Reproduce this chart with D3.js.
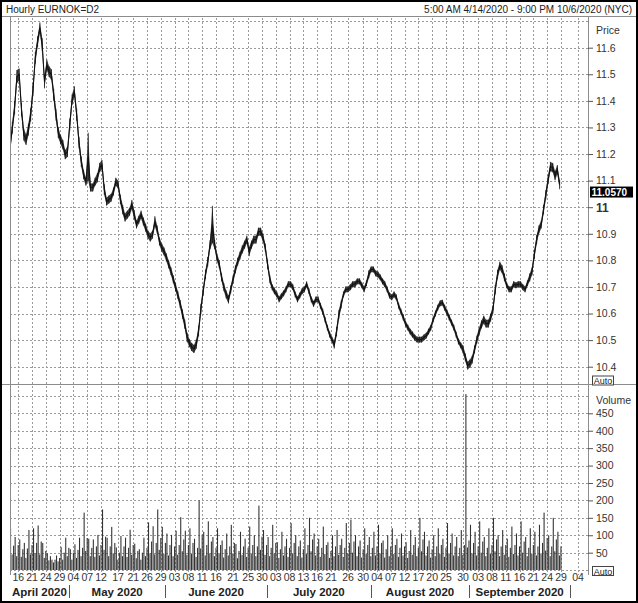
<!DOCTYPE html>
<html><head><meta charset="utf-8">
<script src="https://cdn.jsdelivr.net/npm/d3@7"></script>
<style>body{margin:0;background:#fff;} svg{display:block;font-family:"Liberation Sans",Arial,sans-serif;}</style>
</head><body><svg id="c" width="638" height="603"></svg>
<script>
const title = "Hourly EURNOK=D2";
const rangeText = "5:00 AM 4/14/2020 - 9:00 PM 10/6/2020 (NYC)";
const axisStart = "2020-04-14T05:00";
const axisEnd = "2020-10-06T21:00";
const priceStepHours = 12;
const priceMid = [
11.224,11.299,11.374,11.491,11.499,11.367,11.273,11.254,11.292,11.348,
11.442,11.562,11.623,11.675,11.611,11.472,11.536,11.510,11.499,11.423,
11.348,11.280,11.254,11.235,11.198,11.209,11.311,11.405,11.435,11.348,
11.243,11.171,11.123,11.096,11.190,11.074,11.074,11.096,11.111,11.149,
11.160,11.066,11.021,11.029,11.036,11.059,11.096,11.085,11.029,10.991,
10.961,
10.972,10.983,11.010,10.972,10.935,10.953,10.972,10.946,10.923,10.897,
10.886,10.897,10.946,10.916,10.871,10.848,10.833,10.811,10.785,10.759,
10.729,10.699,10.669,10.636,10.598,10.560,10.511,10.489,10.474,10.467,
10.485,10.534,10.617,10.684,10.747,10.795,10.859,10.935,10.859,10.811,
10.785,10.736,10.699,10.672,10.653,10.691,10.729,10.766,10.795,10.818,
10.841,10.859,10.878,10.833,10.859,10.878,10.878,10.908,10.908,10.886,
10.848,10.785,10.729,10.699,10.684,10.672,10.653,10.665,10.676,10.691,
10.710,10.710,10.699,10.672,10.653,10.668,10.684,10.691,10.710,10.684,
10.653,10.636,10.653,10.653,10.629,10.607,10.577,10.547,10.521,10.502,
10.483,10.532,10.596,10.634,10.672,10.691,10.691,10.699,10.710,10.710,
10.721,10.721,10.706,10.691,10.714,10.747,10.766,10.766,10.751,10.747,
10.736,10.721,10.710,10.691,10.668,10.661,10.672,10.661,10.629,10.607,
10.585,10.562,10.547,10.532,10.521,10.510,10.502,10.502,10.502,10.510,
10.517,10.532,10.547,10.577,10.600,10.622,10.638,10.641,10.622,10.604,
10.585,10.566,10.547,10.521,10.495,10.480,10.465,10.435,10.404,10.412,
10.427,10.465,10.502,10.532,10.559,10.577,10.562,10.562,10.585,10.615,
10.690,10.747,10.780,10.766,10.736,10.706,10.691,10.691,10.710,10.706,
10.710,10.710,10.699,10.691,10.714,10.736,10.759,10.823,10.878,10.916,
10.935,10.991,11.047,11.104,11.153,11.149,11.119,11.141,11.085
];
const priceRange = [
0.040,0.045,0.050,0.050,0.045,0.050,0.045,0.040,0.045,0.050,
0.050,0.045,0.040,0.040,0.050,0.050,0.040,0.040,0.040,0.045,
0.045,0.040,0.035,0.035,0.035,0.040,0.045,0.040,0.040,0.045,
0.045,0.040,0.035,0.030,0.180,0.030,0.030,0.030,0.035,0.035,
0.035,0.040,0.030,0.030,0.030,0.030,0.030,0.030,0.035,0.035,
0.030,
0.030,0.030,0.035,0.035,0.030,0.030,0.030,0.030,0.030,0.030,
0.030,0.030,0.040,0.030,0.030,0.030,0.030,0.030,0.030,0.030,
0.030,0.030,0.030,0.030,0.035,0.035,0.035,0.030,0.030,0.030,
0.035,0.040,0.040,0.035,0.035,0.035,0.035,0.140,0.035,0.030,
0.030,0.030,0.030,0.030,0.030,0.030,0.030,0.030,0.030,0.030,
0.030,0.030,0.030,0.035,0.030,0.030,0.030,0.030,0.030,0.030,
0.030,0.035,0.030,0.022,0.022,0.022,0.022,0.022,0.022,0.022,
0.022,0.022,0.022,0.022,0.022,0.022,0.022,0.022,0.022,0.022,
0.022,0.022,0.022,0.022,0.022,0.022,0.022,0.022,0.022,0.022,
0.030,0.035,0.035,0.030,0.022,0.022,0.022,0.022,0.022,0.022,
0.022,0.022,0.022,0.022,0.022,0.030,0.022,0.022,0.022,0.022,
0.022,0.022,0.022,0.022,0.022,0.022,0.022,0.022,0.022,0.022,
0.022,0.022,0.022,0.022,0.022,0.022,0.022,0.022,0.022,0.022,
0.022,0.022,0.022,0.022,0.022,0.022,0.022,0.022,0.022,0.022,
0.022,0.022,0.022,0.022,0.022,0.022,0.030,0.030,0.030,0.030,
0.030,0.030,0.030,0.030,0.030,0.030,0.030,0.030,0.030,0.030,
0.035,0.035,0.030,0.030,0.030,0.022,0.022,0.022,0.022,0.022,
0.022,0.022,0.022,0.022,0.022,0.030,0.030,0.035,0.035,0.030,
0.030,0.035,0.035,0.035,0.035,0.035,0.035,0.035,0.035
];
const lastPrice = 11.0570;
const volumeStepHours = 8;
const volume = [
120,45,70, 95,40,72, 88,38,60, 78,35,62, 115,45,72, 120,48,78, 128,45,82, 78,35,55, 48,28,40, 30,22,30,
42,25,35, 66,30,50, 93,40,64, 60,30,50, 74,35,58, 93,40,64, 165,55,92, 90,40,64, 88,38,68, 101,42,72,
174,58,96, 93,40,68, 124,48,78, 65,30,50, 98,40,68, 93,38,64, 116,44,72, 76,34,55, 60,30,50, 93,40,64,
137,48,82, 126,45,78, 174,58,92, 124,46,78, 105,42,72, 101,40,68, 113,44,72, 152,54,88, 113,44,72, 120,46,78,
90,38,64, 200,62,102, 110,42,72, 140,48,82, 95,40,64, 120,46,72, 85,36,60, 105,42,68, 130,48,78, 75,34,55,
110,44,68, 90,38,64, 125,46,72, 100,40,68, 185,58,96, 115,44,72, 95,40,64, 130,48,78, 80,35,60, 110,42,68,
90,38,64, 135,48,78, 100,40,68, 85,36,60, 120,46,72, 150,54,88, 105,42,68, 90,38,64, 125,46,72, 80,35,55,
100,40,68, 115,44,72, 90,38,64, 135,48,78, 145,50,82, 100,40,68, 85,36,60, 120,46,72, 95,40,64, 110,42,68,
130,48,78, 85,36,60, 100,40,68, 120,46,72, 90,38,64, 105,42,68, 80,35,55, 115,44,72, 95,40,64, 150,54,88,
110,42,68, 85,36,60, 100,40,68, 120,46,72, 90,38,64, 135,48,78, 105,42,68, 95,40,64, 115,44,72, 505,65,85,
130,48,78, 110,42,68, 140,50,82, 95,40,64, 120,46,72, 150,54,88, 100,40,68, 115,44,72, 90,38,64, 125,46,72,
105,42,68, 140,50,82, 95,40,64, 120,46,72, 110,42,68, 130,48,78, 165,56,92, 100,40,68, 150,54,88, 110,42,68
];
const priceTicks = [10.4,10.5,10.6,10.7,10.8,10.9,11,11.1,11.2,11.3,11.4,11.5,11.6];
const priceGrid = [10.4,10.5,10.6,10.7,10.8,10.9,11,11.1,11.2,11.3,11.4,11.5,11.6,11.7];
const volumeTicks = [50,100,150,200,250,300,350,400,450];
const volumeGrid = [0,50,100,150,200,250,300,350,400,450,500];
const dayTicks = ["2020-04-16","2020-04-21","2020-04-24","2020-04-29",
"2020-05-04","2020-05-07","2020-05-12","2020-05-17","2020-05-21","2020-05-26","2020-05-29",
"2020-06-03","2020-06-08","2020-06-11","2020-06-16","2020-06-21","2020-06-25","2020-06-30",
"2020-07-03","2020-07-08","2020-07-13","2020-07-16","2020-07-21","2020-07-26","2020-07-30",
"2020-08-04","2020-08-07","2020-08-12","2020-08-17","2020-08-20","2020-08-25","2020-08-30",
"2020-09-03","2020-09-08","2020-09-11","2020-09-16","2020-09-21","2020-09-24","2020-09-29",
"2020-10-04"];
const monthLabels = ["April 2020","May 2020","June 2020","July 2020","August 2020","September 2020"];
const monthStarts = ["2020-05-01","2020-06-01","2020-07-01","2020-08-01","2020-09-01","2020-10-01"];

const parseT = d3.utcParse("%Y-%m-%dT%H:%M");
const parseD = d3.utcParse("%Y-%m-%d");
const t0 = parseT(axisStart), t1 = parseT(axisEnd);
function isTrading(ms){const d=new Date(ms);const wd=d.getUTCDay(),h=d.getUTCHours();
  if(wd===6)return false; if(wd===5&&h>=17)return false; if(wd===0&&h<17)return false; return true;}
function tradingHours(t){let n=0;for(let s=+t0;s<+t;s+=3600000){if(isTrading(s))n++;}return n;}
const totalH = tradingHours(t1);

const L=10, R=588, PT=16, PB=384, VT=385, VB=570;
const x = d3.scaleLinear().domain([0,totalH]).range([L,R]);
const yP = d3.scaleLinear().domain([10.4,11.6]).range([366.7,47.7]);
const yV = d3.scaleLinear().domain([0,450]).range([570.1,413.3]);

const svg = d3.select("#c");
svg.append("rect").attr("width",638).attr("height",603).attr("fill","#fff");
const defs = svg.append("defs");
defs.append("clipPath").attr("id","cp").append("rect").attr("x",L).attr("y",PT).attr("width",R-L).attr("height",PB-PT);
defs.append("clipPath").attr("id","cv").append("rect").attr("x",L).attr("y",VT).attr("width",R-L).attr("height",VB-VT);

svg.append("text").attr("x",6).attr("y",13).attr("font-size",10).attr("fill","#222").text(title);
svg.append("text").attr("x",632).attr("y",13).attr("text-anchor","end").attr("font-size",10).attr("fill","#222").text(rangeText);

const gridColor="#9a9a9a";
const dayX = dayTicks.map(s=>x(tradingHours(parseD(s))));
svg.append("g").selectAll("line").data(dayX).join("line")
  .attr("x1",d=>Math.round(d)+0.5).attr("x2",d=>Math.round(d)+0.5)
  .attr("y1",PT+2).attr("y2",VB+5).attr("stroke",gridColor).attr("stroke-dasharray","2,2");
svg.append("g").selectAll("line").data(priceGrid).join("line")
  .attr("x1",L).attr("x2",R).attr("y1",d=>Math.round(yP(d))+0.5).attr("y2",d=>Math.round(yP(d))+0.5)
  .attr("stroke",gridColor).attr("stroke-dasharray","2,2");
svg.append("g").selectAll("line").data(volumeGrid).join("line")
  .attr("x1",L).attr("x2",R).attr("y1",d=>Math.round(yV(d))+0.5).attr("y2",d=>Math.round(yV(d))+0.5)
  .attr("stroke",gridColor).attr("stroke-dasharray","2,2");

const pts = priceMid.map((m,i)=>({h:i*priceStepHours, m, r:priceRange[i]}));
const area = d3.area().x(d=>x(d.h)).y0(d=>yP(d.m-d.r/2)).y1(d=>yP(d.m+d.r/2));
const line = d3.line().x(d=>x(d.h)).y(d=>yP(d.m));
const gp = svg.append("g").attr("clip-path","url(#cp)");
gp.append("path").datum(pts).attr("d",area).attr("fill","#444");
gp.append("path").datum(pts).attr("d",line).attr("fill","none").attr("stroke","#111").attr("stroke-width",1.1);
// bar ticks per half-day (range bars)
gp.selectAll("line.bar").data(pts).join("line").attr("class","bar")
  .attr("x1",d=>x(d.h)).attr("x2",d=>x(d.h)).attr("y1",d=>yP(d.m-d.r/2)).attr("y2",d=>yP(d.m+d.r/2))
  .attr("stroke","#111").attr("stroke-width",0.8);

const gv = svg.append("g").attr("clip-path","url(#cv)");
gv.selectAll("rect").data(volume).join("rect")
  .attr("x",(d,i)=>x(i*volumeStepHours))
  .attr("width",(d,i)=>Math.max(0.6,x((i+1)*volumeStepHours)-x(i*volumeStepHours)-0.45))
  .attr("y",d=>yV(d)).attr("height",d=>yV(0)-yV(d)).attr("fill","#333");

const frame="#8c8c8c";
svg.append("line").attr("x1",0).attr("x2",638).attr("y1",PT+0.5).attr("y2",PT+0.5).attr("stroke",frame);
svg.append("line").attr("x1",0).attr("x2",638).attr("y1",PB+0.5).attr("y2",PB+0.5).attr("stroke",frame);
svg.append("line").attr("x1",L+0.5).attr("x2",L+0.5).attr("y1",PT).attr("y2",VB+5).attr("stroke",frame);
svg.append("line").attr("x1",R+0.5).attr("x2",R+0.5).attr("y1",PT).attr("y2",VB+5).attr("stroke",frame);

const ap = svg.append("g").attr("transform",`translate(${R},0)`)
  .call(d3.axisRight(yP).tickValues(priceTicks).tickSize(5));
ap.select(".domain").remove();
ap.selectAll(".tick line").attr("stroke","#555");
ap.selectAll(".tick text").attr("x",8).attr("fill","#333").attr("font-family","Liberation Sans, Arial, sans-serif")
  .text(d=>d===11?"11":d3.format(".1f")(d))
  .attr("font-weight",d=>d===11?"bold":null).attr("font-size",d=>d===11?12:10.5);
svg.append("text").attr("x",596).attr("y",34).attr("font-size",10.5).attr("fill","#333").text("Price");
const ly = yP(lastPrice);
svg.append("rect").attr("x",590).attr("y",ly-5.5).attr("width",43).attr("height",11).attr("fill","#000");
svg.append("text").attr("x",591.5).attr("y",ly+4).attr("font-size",10).attr("font-weight","bold").attr("fill","#fff").text(d3.format(".4f")(lastPrice));
function autoBox(yc){
  svg.append("rect").attr("x",592.5).attr("y",yc-4.5).attr("width",21).attr("height",9).attr("fill","#fff").attr("stroke","#444");
  svg.append("text").attr("x",603).attr("y",yc+3.5).attr("text-anchor","middle").attr("font-size",9).attr("fill","#222").text("Auto");
}
autoBox(380.5);
const av = svg.append("g").attr("transform",`translate(${R},0)`)
  .call(d3.axisRight(yV).tickValues(volumeTicks).tickSize(5));
av.select(".domain").remove();
av.selectAll(".tick line").attr("stroke","#555");
av.selectAll(".tick text").attr("x",8).attr("font-size",10.5).attr("fill","#333").attr("font-family","Liberation Sans, Arial, sans-serif");
svg.append("text").attr("x",596).attr("y",404).attr("font-size",10.5).attr("fill","#333").text("Volume");
autoBox(571);

svg.append("g").selectAll("text").data(dayTicks).join("text")
  .attr("x",(d,i)=>dayX[i]).attr("y",581).attr("text-anchor","middle").attr("font-size",10.5).attr("fill","#333")
  .text(d=>d.slice(8,10));
const msX = monthStarts.map(s=>x(tradingHours(parseD(s))));
const bounds = [L, ...msX];
svg.append("g").selectAll("line").data(msX).join("line")
  .attr("x1",d=>Math.round(d)+0.5).attr("x2",d=>Math.round(d)+0.5).attr("y1",585).attr("y2",598).attr("stroke","#555");
svg.append("g").selectAll("text").data(monthLabels).join("text")
  .attr("x",(d,i)=>(bounds[i]+bounds[i+1])/2).attr("y",596).attr("text-anchor","middle")
  .attr("font-size",11.5).attr("font-weight","bold").attr("fill","#222").text(d=>d);

svg.append("rect").attr("x",1).attr("y",1).attr("width",636).attr("height",601).attr("fill","none").attr("stroke","#000").attr("stroke-width",2);
</script></body></html>
